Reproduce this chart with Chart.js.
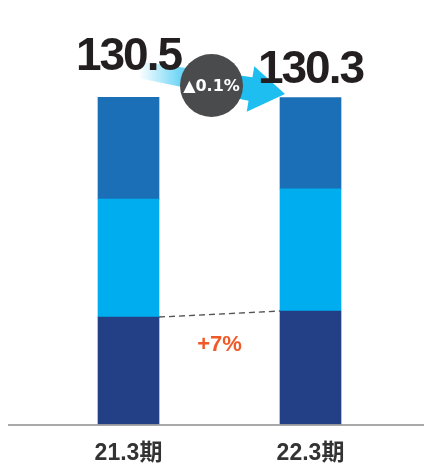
<!DOCTYPE html>
<html>
<head>
<meta charset="utf-8">
<script src="https://cdn.jsdelivr.net/npm/chart.js@4"></script>
<style>
  body { margin: 0; background: #fff; }
  #wrap { width: 424px; height: 464px; position: relative; }
</style>
</head>
<body>
<div id="wrap"><canvas id="chart"></canvas></div>
<script>
// Data
var periods = ['21.3期', '22.3期'];
var baseValues = [42.8, 45.2];
var midValues = [47.0, 48.7];
var topValues = [40.7, 36.4];
var totalLabels = ['130.5', '130.3'];
var changeLabel = '▲0.1%';
var growthLabel = '+7%';

var FONT = '"Liberation Sans", Arial, "Noto Sans CJK JP", sans-serif';

// Decorations: baseline, dashed link, totals, arrow, badge
var overlay = {
    id: 'overlay',
    afterDatasetsDraw: function (chart) {
        var ctx = chart.ctx;
        var y = chart.scales.y;
        var b0 = chart.getDatasetMeta(0).data;
        var x0 = b0[0].x, x1 = b0[1].x;
        var half = b0[0].width / 2;
        var yTop = y.getPixelForValue(130.5);
        var yZero = y.getPixelForValue(0);

        ctx.save();

        // baseline
        ctx.strokeStyle = '#8c8c8c';
        ctx.lineWidth = 1.5;
        ctx.beginPath();
        ctx.moveTo(8, yZero + 0.5);
        ctx.lineTo(chart.width, yZero + 0.5);
        ctx.stroke();

        // dashed line between base segments
        ctx.strokeStyle = '#555';
        ctx.lineWidth = 1.3;
        ctx.setLineDash([6, 4]);
        ctx.beginPath();
        ctx.moveTo(x0 + half, y.getPixelForValue(baseValues[0]));
        ctx.lineTo(x1 - half, y.getPixelForValue(baseValues[1]));
        ctx.stroke();
        ctx.setLineDash([]);

        // growth label
        ctx.fillStyle = '#f05a28';
        ctx.font = 'bold 22px ' + FONT;
        ctx.textAlign = 'center';
        ctx.textBaseline = 'middle';
        ctx.fillText(growthLabel, (x0 + x1) / 2, yTop + 248);

        // arrow
        var sx = x0 + 6, sy = yTop - 28;
        var bx = x1 - 60, by = yTop - 8;
        var tx = x1 - 25.5, ty = yTop - 3;
        var dx = tx - sx, dy = ty - sy;
        var len = Math.sqrt(dx * dx + dy * dy);
        var nx = -dy / len, ny = dx / len;
        var grad = ctx.createLinearGradient(x0 + 10, 0, x0 + 75, 0);
        grad.addColorStop(0, 'rgba(30,190,240,0)');
        grad.addColorStop(1, 'rgba(30,190,240,1)');
        ctx.fillStyle = grad;
        ctx.beginPath();
        ctx.moveTo(sx + nx * 8, sy + ny * 8);
        ctx.lineTo(bx + nx * 12, by + ny * 12);
        ctx.lineTo(bx + nx * 23, by + ny * 23);
        ctx.lineTo(tx, ty);
        ctx.lineTo(bx - nx * 23, by - ny * 23);
        ctx.lineTo(bx - nx * 12, by - ny * 12);
        ctx.lineTo(sx - nx * 8, sy - ny * 8);
        ctx.closePath();
        ctx.fill();

        // totals
        ctx.fillStyle = '#231f20';
        ctx.font = 'bold 46px ' + FONT;
        ctx.letterSpacing = '-2px';
        ctx.textBaseline = 'alphabetic';
        ctx.fillText(totalLabels[0], x0, yTop - 27);
        ctx.fillText(totalLabels[1], x1, yTop - 14);
        ctx.letterSpacing = '0px';

        // badge
        var cx = x0 + 83, cy = yTop - 11.5;
        ctx.fillStyle = '#4a4b4d';
        ctx.beginPath();
        ctx.arc(cx, cy, 31.5, 0, Math.PI * 2);
        ctx.fill();
        ctx.fillStyle = '#fff';
        ctx.font = 'bold 16px "DejaVu Sans", sans-serif';
        ctx.textBaseline = 'middle';
        ctx.fillText(changeLabel, cx, cy + 1);

        ctx.restore();
    }
};

new Chart(document.getElementById('chart'), {
    type: 'bar',
    data: {
        labels: periods,
        datasets: [
            { data: baseValues, backgroundColor: '#233f86' },
            { data: midValues, backgroundColor: '#00aeef' },
            { data: topValues, backgroundColor: '#1b6fb7' }
        ]
    },
    options: {
        responsive: true,
        maintainAspectRatio: false,
        animation: false,
        layout: { padding: { left: 37.5, right: 22.5, top: 97, bottom: -10 } },
        datasets: { bar: { barThickness: 61 } },
        plugins: { legend: { display: false }, tooltip: { enabled: false } },
        scales: {
            x: {
                stacked: true,
                grid: { display: false },
                border: { display: false },
                ticks: {
                    color: '#333',
                    padding: 7,
                    font: { family: FONT, size: 23, weight: 'bold' }
                }
            },
            y: {
                stacked: true,
                display: false,
                min: 0,
                max: 130.5
            }
        }
    },
    plugins: [overlay]
});
</script>
</body>
</html>
